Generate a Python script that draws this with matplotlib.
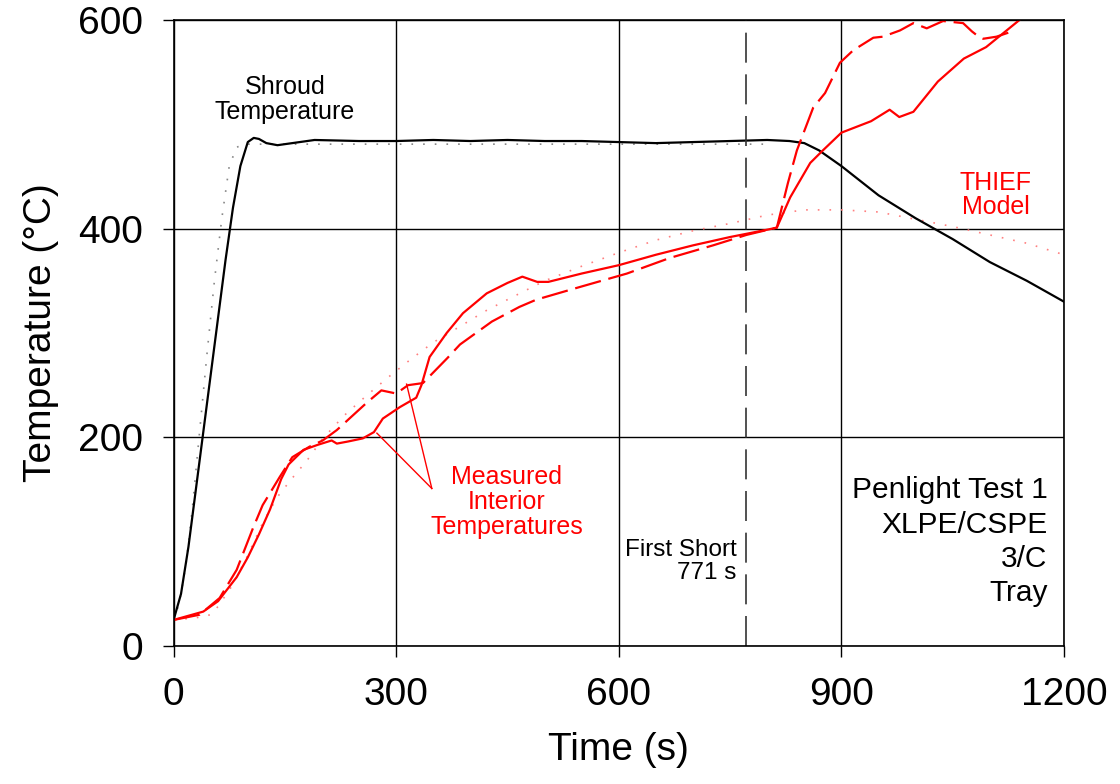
import numpy as np
from matplotlib import pyplot as plt

plt.rcParams['font.family'] = ['Liberation Sans', 'DejaVu Sans']

# Shroud temperature, measured (black solid)
shroud_t = [0, 10, 20, 30, 40, 50, 60, 70, 80, 90, 100, 108, 115, 125, 140, 160, 190,
            250, 300, 350, 400, 450, 500, 550, 600, 650, 700, 750, 800, 830, 850, 870,
            900, 950, 1000, 1050, 1100, 1150, 1200]
shroud_T = [25, 50, 95, 150, 205, 260, 315, 370, 420, 460, 483, 487, 486, 482, 480, 482, 485,
            484, 484, 485, 484, 485, 484, 484, 483, 482, 483, 484, 485, 484, 482, 475,
            460, 432, 410, 390, 368, 350, 330]

# Shroud temperature, THIEF model (grey dotted)
shroud_mod_t = [0, 5, 10, 17, 25, 35, 45, 55, 65, 75, 85, 95, 200, 400, 600, 800]
shroud_mod_T = [25, 35, 50, 80, 130, 205, 280, 350, 410, 460, 478, 481, 481, 481, 481, 481]

# Interior temperature, THIEF model (red dotted)
model_t = [0, 30, 50, 60, 80, 100, 120, 140, 160, 180, 200, 230, 260, 290, 320, 350, 390,
           420, 450, 500, 550, 600, 650, 700, 750, 800, 850, 900, 950, 1000, 1050, 1100,
           1150, 1200]
model_T = [25, 27, 30, 38, 59, 87, 118, 143, 161, 178, 198, 221, 240, 258, 275, 291, 308,
           321, 332, 350, 364, 377, 389, 398, 405, 413, 418, 418, 416, 409, 402, 394,
           386, 375]

# Interior temperature, measured (red solid)
meas1_t = [0, 40, 60, 85, 100, 115, 130, 145, 155, 175, 195, 213, 220, 235, 255, 270, 282,
           305, 327, 334, 345, 368, 390, 422, 450, 470, 490, 505, 550, 600, 650, 700, 750,
           800, 813, 831, 858, 875, 900, 940, 965, 978, 997, 1030, 1065, 1095, 1140]
meas1_T = [25, 33, 43, 66, 85, 107, 131, 160, 174, 188, 193, 197, 194, 196, 199, 205, 218,
           229, 238, 250, 277, 300, 319, 338, 348, 354, 349, 349, 357, 365, 375, 384, 392,
           399, 401, 430, 463, 475, 492, 503, 514, 507, 512, 541, 563, 574, 600]

# Interior temperature, measured (red dashed)
meas2_t = [0, 35, 62, 85, 107, 120, 143, 160, 183, 201, 220, 260, 280, 300, 316, 336, 369,
           386, 429, 466, 489, 547, 611, 669, 727, 772, 813, 828, 840, 862, 878, 898, 916,
           943, 956, 979, 997, 1015, 1037, 1064, 1076, 1085, 1091, 1109, 1134]
meas2_T = [25, 30, 46, 73, 113, 135, 162, 181, 191, 197, 207, 233, 245, 242, 250, 252, 276,
           289, 311, 325, 332, 344, 357, 372, 384, 394, 401, 444, 475, 516, 530, 559, 571,
           583, 584, 590, 597, 592, 599, 597, 589, 584, 582, 584, 590]

first_short = 771

fig = plt.figure(figsize=(11.2, 7.84), dpi=100)
ax = fig.add_axes([0.155, 0.176, 0.795, 0.7985])

ax.plot(shroud_mod_t, shroud_mod_T, color='#888888', lw=1.2, ls=(0, (1, 6)))
ax.plot(model_t, model_T, color='#ff8080', lw=1.2, ls=(0, (1, 6)))
ax.plot(shroud_t, shroud_T, color='black', lw=1.6)
ax.plot(meas1_t, meas1_T, color='red', lw=1.6)
ax.plot(meas2_t, meas2_T, color='red', lw=1.6, dashes=(12, 3.5))
ax.axvline(first_short, color='#333333', lw=1.2, dashes=(18, 7))

ax.set_xlim(0, 1200)
ax.set_ylim(0, 600)
ax.set_xticks([0, 300, 600, 900, 1200])
ax.set_yticks([0, 200, 400, 600])
ax.grid(True, color='black', lw=1)
ax.tick_params(direction='out', length=8, width=1, labelsize=28, pad=14)
for s in ax.spines.values():
    s.set_linewidth(1.2)

ax.set_xlabel('Time (s)', fontsize=28, labelpad=14)
ax.set_ylabel('Temperature (°C)', fontsize=28, labelpad=14)

ax.text(150, 524, 'Shroud\nTemperature', fontsize=18, ha='center', va='center',
        linespacing=1.05)
ax.text(1108, 432, 'THIEF\nModel', fontsize=18, color='red', ha='center', va='center',
        linespacing=1.0)
ax.text(449, 138, 'Measured\nInterior\nTemperatures', fontsize=18, color='red',
        ha='center', va='center', linespacing=1.05)
ax.plot([348, 274], [151, 204], color='red', lw=1)
ax.plot([348, 314], [151, 251], color='red', lw=1)
ax.text(759, 81, 'First Short\n771 s', fontsize=17.5, ha='right', va='center',
        linespacing=1.1)
ax.text(1178, 100, 'Penlight Test 1\nXLPE/CSPE\n3/C\nTray', fontsize=21.5, ha='right',
        va='center', linespacing=1.28)

fig.savefig('out.png', dpi=100)
